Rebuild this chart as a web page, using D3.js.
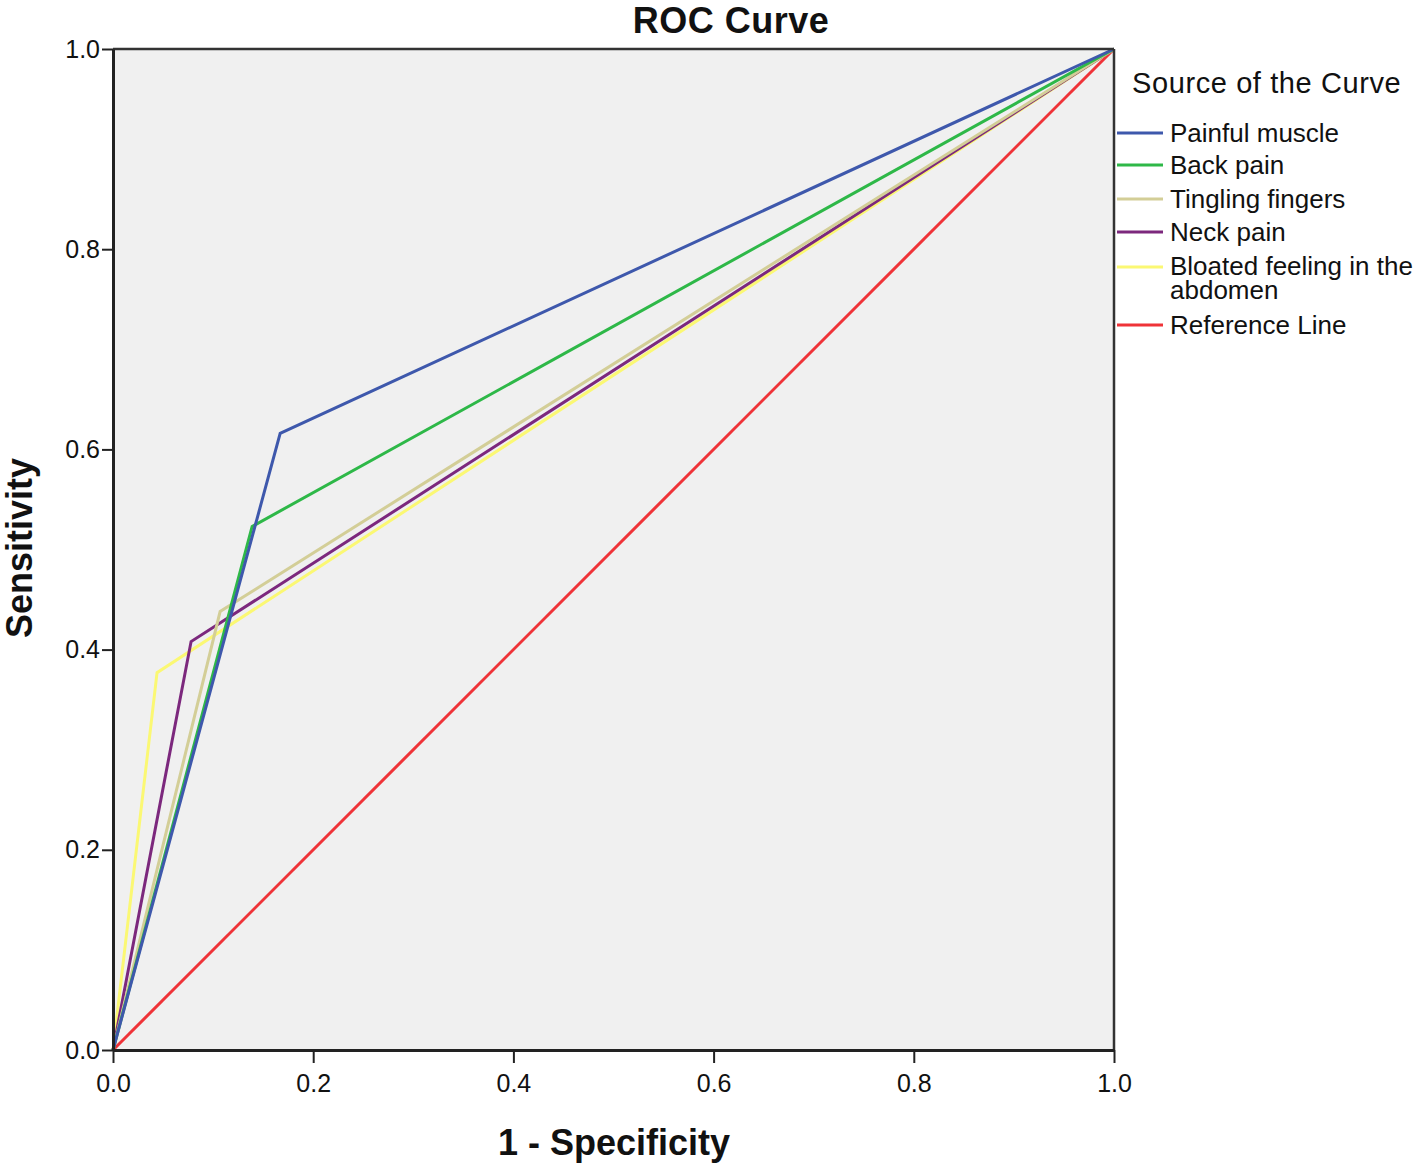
<!DOCTYPE html>
<html><head><meta charset="utf-8">
<script src="https://cdn.jsdelivr.net/npm/d3@7"></script>
<style>body{margin:0;background:#fff;} text{font-family:"Liberation Sans",Arial,sans-serif;}</style>
</head><body>
<svg id="c" width="1418" height="1166"></svg>
<script>
const seriesNames = ["Painful muscle","Back pain","Tingling fingers","Neck pain","Bloated feeling in the abdomen","Reference Line"];
const seriesColors = ["#3e58ac","#2eb848","#d3ce97","#7c287d","#fbf873","#ef3338"];
const fprValues = [
  [0,0.167,1],
  [0,0.139,1],
  [0,0.107,1],
  [0,0.078,1],
  [0,0.044,1],
  [0,1]
];
const tprValues = [
  [0,0.616,1],
  [0,0.523,1],
  [0,0.438,1],
  [0,0.408,1],
  [0,0.377,1],
  [0,1]
];
const tickValues = [0,0.2,0.4,0.6,0.8,1.0];

const svg = d3.select("#c");
const L=113, R=1114, T=49, B=1050;
const x = d3.scaleLinear().domain([0,1]).range([L,R]);
const y = d3.scaleLinear().domain([0,1]).range([B,T]);

svg.append("rect").attr("x",L).attr("y",T).attr("width",R-L).attr("height",B-T).attr("fill","#f0f0f0");

const order=[5,4,3,2,1,0];
const line=d3.line().x(d=>x(d[0])).y(d=>y(d[1]));
order.forEach(i=>{
  const pts=fprValues[i].map((v,j)=>[v,tprValues[i][j]]);
  svg.append("path").attr("d",line(pts)).attr("fill","none").attr("stroke",seriesColors[i]).attr("stroke-width",3);
});

svg.append("line").attr("x1",L).attr("x2",R).attr("y1",T).attr("y2",T).attr("stroke","#333").attr("stroke-width",2.5);
svg.append("line").attr("x1",R).attr("x2",R).attr("y1",T).attr("y2",B).attr("stroke","#333").attr("stroke-width",2.5);

const xa=svg.append("g").attr("transform",`translate(0,${B})`).call(d3.axisBottom(x).tickValues(tickValues).tickFormat(d3.format(".1f")).tickSize(13).tickSizeOuter(0).tickPadding(11));
const ya=svg.append("g").attr("transform",`translate(${L},0)`).call(d3.axisLeft(y).tickValues(tickValues).tickFormat(d3.format(".1f")).tickSize(11).tickSizeOuter(0).tickPadding(2));
[xa,ya].forEach(a=>{
  a.select(".domain").attr("stroke","#222").attr("stroke-width",3);
  a.selectAll(".tick line").attr("stroke","#222").attr("stroke-width",2);
  a.selectAll(".tick text").attr("font-size",25).attr("fill","#111").style("font-family","Liberation Sans,Arial,sans-serif");
});

svg.append("text").attr("x",731).attr("y",33).attr("text-anchor","middle").attr("font-size",36).attr("font-weight","bold").attr("letter-spacing",0.5).attr("fill","#111").text("ROC Curve");
svg.append("text").attr("x",614).attr("y",1155).attr("text-anchor","middle").attr("font-size",36).attr("font-weight","bold").attr("fill","#111").text("1 - Specificity");
svg.append("text").attr("transform","translate(32,548) rotate(-90)").attr("text-anchor","middle").attr("font-size",36).attr("font-weight","bold").attr("fill","#111").text("Sensitivity");

const lg=svg.append("g");
lg.append("text").attr("x",1132).attr("y",93).attr("font-size",29).attr("letter-spacing",0.6).attr("fill","#111").text("Source of the Curve");
const rowY=[133,165,199,232,267,325];
seriesNames.forEach((n,i)=>{
  lg.append("line").attr("x1",1117).attr("x2",1163).attr("y1",rowY[i]).attr("y2",rowY[i]).attr("stroke",seriesColors[i]).attr("stroke-width",3);
  if(i===4){
    const t=lg.append("text").attr("x",1170).attr("y",rowY[i]+8).attr("font-size",26).attr("fill","#111");
    t.append("tspan").attr("x",1170).text("Bloated feeling in the");
    t.append("tspan").attr("x",1170).attr("dy",24).text("abdomen");
  } else {
    lg.append("text").attr("x",1170).attr("y",rowY[i]+9).attr("font-size",26).attr("fill","#111").text(n);
  }
});
</script>
</body></html>
